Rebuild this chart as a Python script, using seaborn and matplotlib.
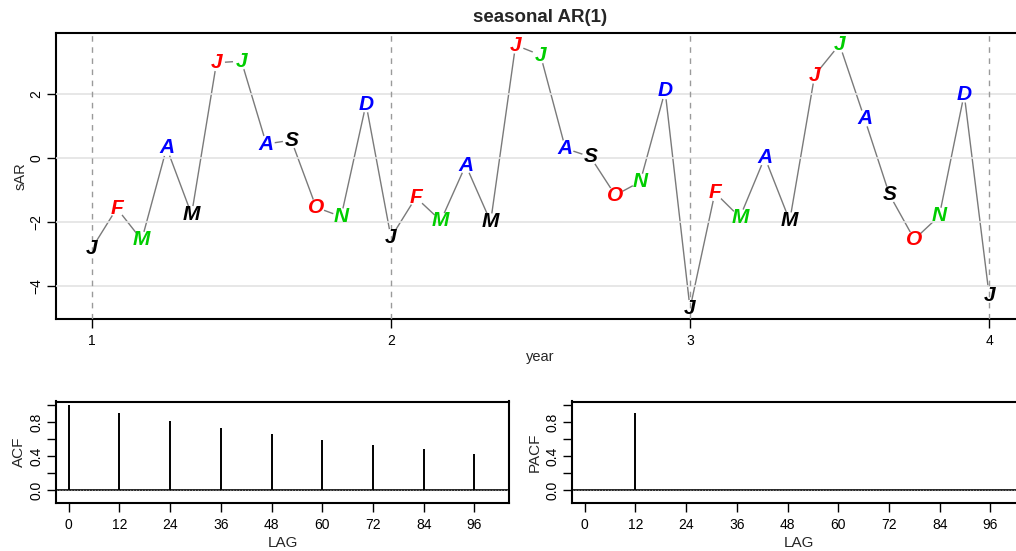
import numpy as np
import pandas as pd
import matplotlib
matplotlib.use('Agg')
import matplotlib.pyplot as plt
import seaborn as sns

# monthly values of the seasonal AR(1) series, 3 years + 1 month
sar = [-2.82, -1.57, -2.56, 0.32, -1.76, 2.98, 3.03, 0.44, 0.56, -1.54, -1.83, 1.69,
       -2.48, -1.23, -1.96, -0.22, -1.99, 3.53, 3.22, 0.30, 0.04, -1.16, -0.74, 2.10,
       -4.70, -1.08, -1.85, 0.02, -1.96, 2.59, 3.55, 1.24, -1.14, -2.54, -1.81, 2.00,
       -4.28]
months = ['J', 'F', 'M', 'A', 'M', 'J', 'J', 'A', 'S', 'O', 'N', 'D']
letter_colors = ['black', 'red', '#00CD00', 'blue']
years = [1, 2, 3, 4]

# ACF / PACF
lags = [0, 12, 24, 36, 48, 60, 72, 84, 96]
acf_vals = [1.0, 0.90, 0.81, 0.73, 0.66, 0.59, 0.53, 0.48, 0.43]
pacf_lags = [12]
pacf_vals = [0.90]
lag_ticks = [0, 12, 24, 36, 48, 60, 72, 84, 96]

time = [1 + k / 12 for k in range(len(sar))]
df = pd.DataFrame({'year': time, 'sAR': sar})

sns.set_style("white")
plt.rcParams['font.family'] = ['Liberation Sans', 'DejaVu Sans']

W, H = 1016, 551
fig = plt.figure(figsize=(W / 100, H / 100), dpi=100)
ax = fig.add_axes([56 / W, 1 - 319 / H, 969 / W, 286 / H])
ax_acf = fig.add_axes([56 / W, 1 - 503 / H, 453 / W, 101.5 / H])
ax_pacf = fig.add_axes([572 / W, 1 - 503 / H, 453 / W, 101.5 / H])

# ---- top panel
# line first, then white discs to cut gaps round the points, then grid, then letters
sns.lineplot(data=df, x='year', y='sAR', color='#7a7a7a', lw=1, ax=ax, zorder=2)
for k, (t, v) in enumerate(zip(time, sar)):
    ax.text(t, v, months[k % 12], color='none', fontsize=15, fontweight='bold',
            fontstyle='italic', ha='center', va='center',
            bbox=dict(boxstyle='circle,pad=-0.05', fc='white', ec='none'), zorder=2.5)
for g in [-4, -2, 0, 2]:
    ax.axhline(g, color='#e3e3e3', lw=1.2, zorder=2.6)
for yr in years:
    ax.axvline(yr, color='#9a9a9a', lw=1, ls=(0, (4, 4)), zorder=2.7)
for k, (t, v) in enumerate(zip(time, sar)):
    ax.text(t, v, months[k % 12], color=letter_colors[k % 4], fontsize=15,
            fontweight='bold', fontstyle='italic', ha='center', va='center', zorder=3)

ax.set_xlim(0.88, 4.12)
ax.set_ylim(-5.03, 3.91)
ax.set_xticks(years)
ax.set_yticks([-4, -2, 0, 2])
ax.set_title('seasonal AR(1)', fontsize=13.5, fontweight='bold', pad=8)
ax.set_xlabel('year', fontsize=10.5)
ax.set_ylabel('sAR', fontsize=10.5)
ax.xaxis.set_label_coords(0.5, -0.11)
ax.yaxis.set_label_coords(-0.029, 0.5)

# ---- ACF / PACF
ax_acf.vlines(lags, 0, acf_vals, color='black', lw=1.4)
ax_pacf.vlines(pacf_lags, 0, pacf_vals, color='black', lw=1.4)
for a, lab in [(ax_acf, 'ACF'), (ax_pacf, 'PACF')]:
    a.axhline(0, color='black', lw=1.2)
    a.axhline(0.006, color='#888888', lw=0.8, ls=':')
    a.set_xlim(-3, 104.2)
    a.set_ylim(-0.15, 1.04)
    a.set_yticks([0, 0.2, 0.4, 0.6, 0.8, 1.0])
    a.set_yticklabels(['0.0', '', '0.4', '', '0.8', ''])
    a.set_xticks(lag_ticks)
    a.set_xlabel('LAG', fontsize=11)
    a.set_ylabel(lab, fontsize=11)
    a.xaxis.set_label_coords(0.5, -0.33)
    a.yaxis.set_label_coords(-0.066, 0.5)

for a in [ax, ax_acf, ax_pacf]:
    a.tick_params(axis='both', direction='out', length=6.5, width=1, labelsize=10,
                  pad=4, left=True, bottom=True, colors='black')
    a.tick_params(axis='y', labelrotation=90, pad=2.5)
    for lab in a.get_yticklabels():
        lab.set_va('center')
    for s in a.spines.values():
        s.set_color('black')
        s.set_linewidth(1.5)

fig.savefig('out.png', dpi=100)
